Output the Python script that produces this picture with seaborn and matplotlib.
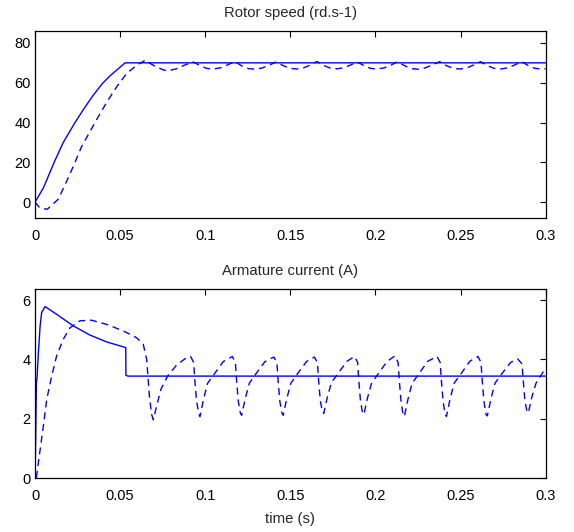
import numpy as np
import pandas as pd
import seaborn as sns
import matplotlib.pyplot as plt

# Rotor speed (rd/s): reference (solid) and measured (dashed)
speed_ref_t = [0, 0.0049, 0.0115, 0.0166, 0.0235, 0.0284, 0.0340, 0.0395, 0.0441, 0.0529, 0.3]
speed_ref_v = [0, 7.1, 20.5, 30.0, 40.0, 46.5, 53.5, 59.5, 63.5, 70.0, 70.0]

speed_t = [0, 0.0029, 0.0072, 0.0137, 0.0186, 0.0225, 0.0274, 0.0333, 0.0382, 0.0431, 0.0480,
           0.0539, 0.0597, 0.0646, 0.0680, 0.0715, 0.0760, 0.0790, 0.0830, 0.0871,
           0.0929, 0.0969, 0.1009, 0.1049, 0.1089, 0.1129,
           0.1174, 0.1214, 0.1254, 0.1294, 0.1334, 0.1374,
           0.1418, 0.1458, 0.1498, 0.1538, 0.1578, 0.1618,
           0.1656, 0.1696, 0.1736, 0.1776, 0.1816, 0.1856,
           0.1892, 0.1932, 0.1972, 0.2012, 0.2052, 0.2092,
           0.2130, 0.2170, 0.2210, 0.2250, 0.2290, 0.2330,
           0.2377, 0.2417, 0.2457, 0.2497, 0.2537, 0.2577,
           0.2617, 0.2657, 0.2697, 0.2737, 0.2777, 0.2817,
           0.2858, 0.2898, 0.2938, 0.2978, 0.3000]
speed_v = [0, -3.0, -3.6, 1.5, 10.5, 18.0, 28.0, 37.0, 44.5, 51.5, 58.0,
           64.7, 68.8, 71.2, 69.5, 67.8, 66.3, 66.2, 67.0, 68.6,
           70.5, 68.6, 67.2, 66.9, 67.5, 68.9,
           70.6, 68.5, 67.1, 66.8, 67.4, 68.8,
           70.5, 68.6, 67.2, 66.9, 67.5, 68.9,
           70.7, 68.7, 67.3, 67.0, 67.6, 69.0,
           70.5, 68.6, 67.2, 66.9, 67.5, 68.9,
           70.6, 68.6, 67.1, 66.8, 67.4, 68.8,
           70.6, 68.6, 67.2, 66.9, 67.5, 68.9,
           70.6, 68.6, 67.2, 66.9, 67.5, 68.9,
           70.6, 68.6, 67.2, 66.9, 67.0]

# Armature current (A): reference (solid) and measured (dashed)
cur_ref_t = [0, 0.0004, 0.0008, 0.0012, 0.0020, 0.0030, 0.0039, 0.0059, 0.0127, 0.0225,
             0.0323, 0.0421, 0.0533, 0.0534, 0.0545, 0.3]
cur_ref_v = [0, 1.4, 3.2, 3.4, 4.23, 5.13, 5.58, 5.78, 5.52, 5.13,
             4.82, 4.59, 4.40, 3.47, 3.44, 3.44]

cur_t = [0.0008, 0.0025, 0.0049, 0.0069, 0.0098, 0.0127, 0.0166, 0.0206, 0.0264, 0.0333,
         0.0421, 0.0519, 0.0597, 0.0636, 0.0656, 0.0672, 0.0685, 0.0695,
         0.0715, 0.0740, 0.0780, 0.0830, 0.0880, 0.0914,
         0.0932, 0.0939, 0.0949, 0.0961, 0.0969, 0.0989, 0.1014, 0.1057, 0.1106, 0.1159,
         0.1177, 0.1184, 0.1194, 0.1206, 0.1214, 0.1234, 0.1259, 0.1302, 0.1351, 0.1403,
         0.1421, 0.1428, 0.1438, 0.1450, 0.1458, 0.1478, 0.1503, 0.1546, 0.1595, 0.1641,
         0.1659, 0.1666, 0.1676, 0.1688, 0.1696, 0.1716, 0.1741, 0.1784, 0.1833, 0.1877,
         0.1895, 0.1902, 0.1912, 0.1924, 0.1932, 0.1952, 0.1977, 0.2020, 0.2069, 0.2115,
         0.2133, 0.2140, 0.2150, 0.2162, 0.2170, 0.2190, 0.2215, 0.2258, 0.2307, 0.2362,
         0.2380, 0.2387, 0.2397, 0.2409, 0.2417, 0.2437, 0.2462, 0.2505, 0.2554, 0.2602,
         0.2620, 0.2627, 0.2637, 0.2649, 0.2657, 0.2677, 0.2702, 0.2745, 0.2794, 0.2835,
         0.2861, 0.2868, 0.2878, 0.2890, 0.2898, 0.2918, 0.2943, 0.2985, 0.3000]
cur_v = [0.02, 0.75, 1.76, 2.66, 3.44, 4.12, 4.68, 5.07, 5.30, 5.32,
         5.18, 4.96, 4.73, 4.51, 4.00, 2.77, 2.15, 1.97,
         2.45, 3.00, 3.45, 3.80, 4.02, 4.10,
         3.90, 3.30, 2.60, 2.20, 2.07, 2.64, 3.20, 3.54, 3.93, 4.10,
         3.90, 3.30, 2.60, 2.20, 2.12, 2.66, 3.20, 3.55, 3.93, 4.08,
         3.90, 3.30, 2.60, 2.20, 2.12, 2.66, 3.20, 3.55, 3.93, 4.08,
         3.90, 3.30, 2.60, 2.25, 2.18, 2.70, 3.22, 3.56, 3.94, 4.10,
         3.90, 3.30, 2.60, 2.20, 2.15, 2.68, 3.20, 3.55, 3.94, 4.12,
         3.90, 3.30, 2.60, 2.15, 2.08, 2.64, 3.20, 3.54, 3.94, 4.10,
         3.90, 3.30, 2.60, 2.15, 2.08, 2.64, 3.20, 3.54, 3.94, 4.10,
         3.90, 3.30, 2.60, 2.15, 2.10, 2.64, 3.20, 3.54, 3.90, 4.02,
         3.85, 3.30, 2.60, 2.25, 2.20, 2.72, 3.20, 3.58, 3.68]

sns.set_style("white")
plt.rcParams['font.family'] = ['Liberation Sans', 'DejaVu Sans']

fig = plt.figure(figsize=(5.74, 5.32), dpi=100)
ax1 = fig.add_axes([0.061, 0.5902, 0.8897, 0.3515])
ax2 = fig.add_axes([0.061, 0.1009, 0.8897, 0.3558])

blue = (0, 0, 1)
lw = 1.0

sns.lineplot(x=speed_ref_t, y=speed_ref_v, ax=ax1, color=blue, lw=lw, estimator=None, sort=False)
sns.lineplot(x=speed_t, y=speed_v, ax=ax1, color=blue, lw=lw, estimator=None, sort=False,
             linestyle=(0, (5, 3.5)))
sns.lineplot(x=cur_ref_t, y=cur_ref_v, ax=ax2, color=blue, lw=lw, estimator=None, sort=False)
sns.lineplot(x=cur_t, y=cur_v, ax=ax2, color=blue, lw=lw, estimator=None, sort=False,
             linestyle=(0, (5, 3.5)))

ax1.set_ylim(-8, 86)
ax1.set_yticks([0, 20, 40, 60, 80])
ax2.set_ylim(0, 6.37)
ax2.set_yticks([0, 2, 4, 6])

xt = [0, 0.05, 0.1, 0.15, 0.2, 0.25, 0.3]
xtl = ['0', '0.05', '0.1', '0.15', '0.2', '0.25', '0.3']
for ax in (ax1, ax2):
    ax.set_xlim(0, 0.3)
    ax.set_xticks(xt)
    ax.set_xticklabels(xtl)
    ax.tick_params(direction='in', top=True, right=True, length=4, width=0.8,
                   labelsize=10.5, colors='black')
    ax.tick_params(axis='x', pad=8)
    ax.tick_params(axis='y', pad=3)
    for s in ax.spines.values():
        s.set_color('black')
        s.set_linewidth(0.9)

ax1.set_title('Rotor speed (rd.s-1)', fontsize=10.7, pad=10)
ax2.set_title('Armature current (A)', fontsize=10.7, pad=10)
ax2.set_xlabel('time (s)', fontsize=10.7, labelpad=6)

fig.savefig('out.png', dpi=100)
